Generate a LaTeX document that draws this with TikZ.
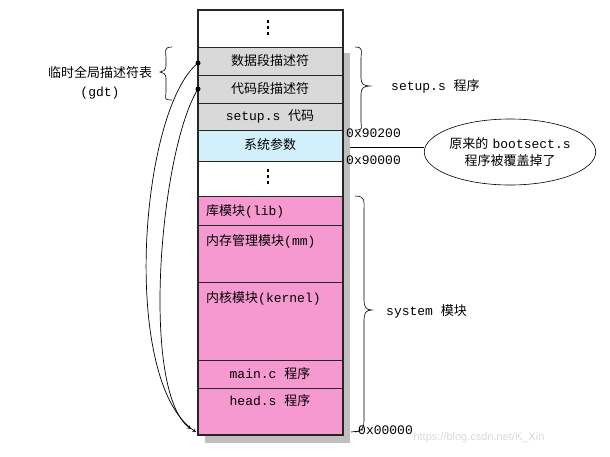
\documentclass[tikz,border=0pt]{standalone}
\usepackage{fontspec}
\usetikzlibrary{shapes.geometric}
\setmonofont{Liberation Mono}
\setsansfont{Liberation Sans}
\newfontfamily\cjk{Noto Sans CJK SC}
\begin{document}
\begin{tikzpicture}[x=1pt,y=-1pt,
  cell/.style={draw=black!85,line width=1pt},
  lbl/.style={font=\fontsize{13}{14}\selectfont,inner sep=1pt},
  brace/.style={line width=0.6pt}]
\useasboundingbox (0,0) rectangle (610,456);
% shadow
\fill[black!25] (343,53) rectangle (350,443);
\fill[black!25] (205,435) rectangle (350,443);
% cells
\fill[white] (198,10) rectangle (343,47);
\fill[black!15] (198,47) rectangle (343,130);
\fill[cyan!18] (198,130) rectangle (343,161);
\fill[magenta!40!white] (198,196) rectangle (343,435);
\fill[white] (198,161) rectangle (343,196);
\foreach \y in {47,75,103,130,161,196,225,282,360,388}{\draw[cell,line width=0.8pt] (198,\y) -- (343,\y);}
\draw[cell,line width=1.6pt] (198,10) rectangle (343,435);
\foreach \y in {20,26,32}{\fill (267,\y) rectangle (269,\y+3);}
\foreach \y in {169,175,181}{\fill (267,\y) rectangle (269,\y+3);}
\node[lbl] (d) at (270,61) {\cjk 数据段描述符};
\node[lbl] (c) at (270,89) {\cjk 代码段描述符};
\node[lbl] at (270,116) {\ttfamily setup.s {\cjk 代码}};
\node[lbl] at (270,145) {\cjk 系统参数};
\node[lbl,anchor=west] at (205,211) {{\cjk 库模块}\ttfamily(lib)};
\node[lbl,anchor=west] at (205,241) {{\cjk 内存管理模块}\ttfamily(mm)};
\node[lbl,anchor=west] at (205,298) {{\cjk 内核模块}\ttfamily(kernel)};
\node[lbl] at (270,374) {\ttfamily main.c {\cjk 程序}};
\node[lbl] at (270,401) {\ttfamily head.s {\cjk 程序}};
% addresses
\node[lbl,anchor=west] at (345,133) {\ttfamily 0x90200};
\node[lbl,anchor=west] at (345,160) {\ttfamily 0x90000};
\node[lbl,anchor=west] at (357,430) {\ttfamily 0x00000};
\draw[brace] (351,432) -- (359,431);
% left brace
\draw[brace] (172,47) .. controls (163,47) and (166,52) .. (166,58) -- (166,66) .. controls (166,70) and (163,72) .. (160,72)
  .. controls (163,72) and (166,74) .. (166,78) -- (166,92) .. controls (166,98) and (163,100) .. (172,100);
\node[lbl] at (100,72) {\cjk 临时全局描述符表};
\node[lbl] at (100,93) {\ttfamily (gdt)};
% right braces
\draw[brace] (355,47) .. controls (364,47) and (361,52) .. (361,58) -- (361,78) .. controls (361,84) and (364,86) .. (370,86)
  .. controls (364,86) and (361,88) .. (361,94) -- (361,122) .. controls (361,128) and (364,130) .. (355,130);
\node[lbl,anchor=west] at (390,86) {\ttfamily setup.s {\cjk 程序}};
\draw[brace] (355,196) .. controls (366,196) and (364,202) .. (364,210) -- (364,300) .. controls (364,307) and (366,310) .. (372,310)
  .. controls (366,310) and (364,313) .. (364,320) -- (364,420) .. controls (364,428) and (362,431) .. (355,432);
\node[lbl,anchor=west] at (385,311) {\ttfamily system {\cjk 模块}};
% ellipse
\node[draw,ellipse,minimum width=160,minimum height=66,inner sep=0,line width=0.6pt,
  align=center,font=\fontsize{13}{17}\selectfont] (e) at (510,152) {{\cjk 原来的} \ttfamily bootsect.s\\{\cjk 程序被覆盖掉了}};
\coordinate (ep) at (350,147);
\draw[line width=0.6pt] (ep) -- (e.west |- ep);
% curves
\coordinate (t1) at (196,432);
\coordinate (t2) at (191,429);
\fill (198,63) circle (2.5);
\fill (198,89) circle (2.5);
\draw[-stealth,line width=0.7pt] (198,63) .. controls (140,110) and (120,380) .. (t1);
\draw[-stealth,line width=0.7pt] (198,89) .. controls (160,150) and (140,390) .. (t2);
\node[font=\sffamily\fontsize{11}{11}\selectfont,text=black!15,anchor=west] at (410,438) {https://blog.csdn.net/K\_Xin};
\end{tikzpicture}
\end{document}
